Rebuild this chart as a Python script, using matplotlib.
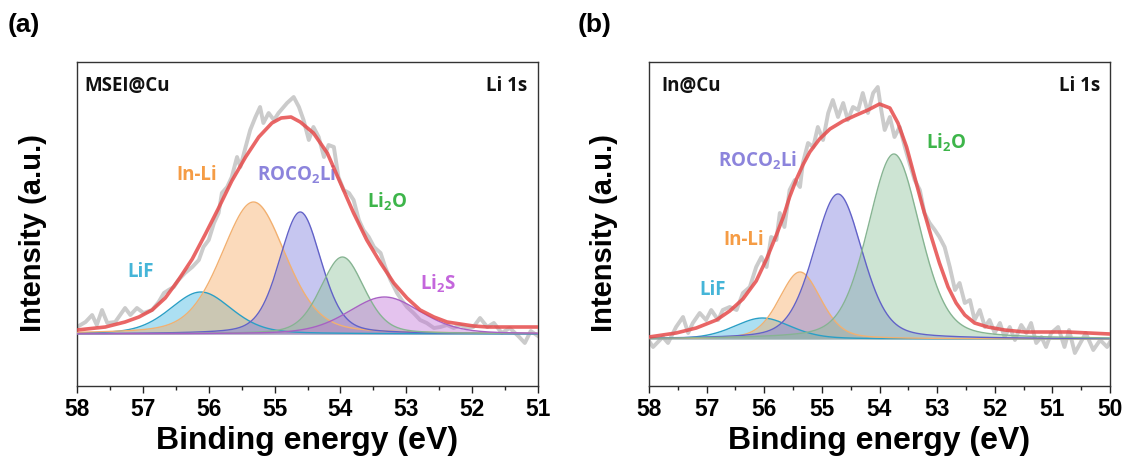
import numpy as np
import matplotlib
matplotlib.use("Agg")
import matplotlib.pyplot as plt
from matplotlib.ticker import MultipleLocator

plt.rcParams["mathtext.default"] = "regular"

# ---------------- data: panel (a) MSEI@Cu ----------------
a_raw_E = [58.00, 57.87, 57.77, 57.70, 57.62, 57.54, 57.42, 57.27, 57.19, 57.09, 56.99, 56.86,
           56.76, 56.68, 56.61, 56.53, 56.46, 56.36, 56.25, 56.15, 56.08, 56.00, 55.92, 55.85,
           55.80, 55.72, 55.65, 55.57, 55.52, 55.44, 55.37, 55.29, 55.22, 55.17, 55.09, 55.01,
           54.94, 54.81, 54.71, 54.63, 54.56, 54.48, 54.41, 54.33, 54.25, 54.18, 54.10, 54.03,
           53.95, 53.87, 53.80, 53.72, 53.65, 53.57, 53.49, 53.39, 53.32, 53.24, 53.14, 53.07,
           52.99, 52.89, 52.79, 52.69, 52.58, 52.48, 52.38, 52.28, 52.18, 52.08, 51.98, 51.88,
           51.77, 51.67, 51.55, 51.43, 51.30, 51.20, 51.11, 51.00]
a_raw_I = [7, 12, 19, 9, 24, 11, 12, 26, 19, 26, 21, 24,
           32, 41, 44, 47, 54, 61, 67, 74, 87, 94, 111, 121,
           141, 147, 157, 177, 167, 187, 204, 217, 227, 211, 221, 214,
           221, 231, 237, 227, 214, 194, 207, 197, 177, 189, 187, 157,
           144, 141, 134, 114, 104, 97, 87, 81, 67, 54, 41, 34,
           27, 21, 14, 11, 6, 7, 9, 6, 9, 6, 7, 16,
           7, 11, 1, 6, -2, -9, 3, -2]
a_fit_E = [58.00, 57.57, 57.27, 57.06, 56.86, 56.66, 56.46, 56.25, 56.05, 55.85, 55.65, 55.44,
           55.24, 55.04, 54.90, 54.75, 54.61, 54.41, 54.20, 54.00, 53.80, 53.60, 53.39, 53.19,
           52.99, 52.79, 52.58, 52.38, 52.18, 51.98, 51.77, 51.55, 51.00]
a_fit_I = [4, 7, 12, 17, 24, 36, 54, 75, 100, 126, 153, 177,
           197, 211, 216, 217, 212, 201, 181, 151, 121, 94, 71, 51,
           36, 24, 17, 12, 10, 8, 7, 7, 7]
a_names = ["LiF", "In-Li", "ROCO$_2$Li", "Li$_2$O", "Li$_2$S"]
a_center = [56.12, 55.32, 54.61, 53.97, 53.33]
a_height = [42, 132, 122, 77, 37]
a_fwhm = [1.10, 1.15, 0.75, 0.78, 1.30]
a_label_E = [57.04, 56.18, 54.67, 53.29, 52.52]
a_label_I = [62, 159, 159, 132, 50]

# ---------------- data: panel (b) In@Cu ----------------
b_raw_E = [58.00, 57.93, 57.76, 57.67, 57.53, 57.41, 57.32, 57.24, 57.12, 57.01, 56.92, 56.80,
           56.72, 56.60, 56.48, 56.37, 56.25, 56.14, 56.05, 55.96, 55.88, 55.79, 55.73, 55.65,
           55.56, 55.47, 55.38, 55.33, 55.24, 55.15, 55.07, 54.98, 54.89, 54.81, 54.72, 54.63,
           54.55, 54.46, 54.37, 54.29, 54.20, 54.11, 54.03, 53.97, 53.91, 53.82, 53.74, 53.65,
           53.56, 53.48, 53.39, 53.30, 53.22, 53.13, 53.04, 52.96, 52.87, 52.78, 52.69, 52.61,
           52.52, 52.43, 52.35, 52.26, 52.17, 52.09, 52.00, 51.91, 51.83, 51.74, 51.65, 51.54,
           51.45, 51.37, 51.28, 51.19, 51.11, 51.02, 50.90, 50.79, 50.71, 50.61, 50.42, 50.29,
           50.17, 50.05, 50.00]
b_raw_I = [-2, -8, 2, -4, 12, 22, 6, 16, 26, 19, 29, 19,
           29, 32, 29, 46, 52, 72, 82, 72, 102, 99, 126, 112,
           149, 159, 152, 176, 196, 192, 212, 199, 226, 239, 222, 236,
           219, 232, 229, 246, 226, 246, 252, 229, 209, 222, 202, 212,
           192, 176, 159, 149, 126, 116, 109, 102, 92, 72, 49, 56,
           36, 39, 19, 29, 12, 19, 6, 16, 2, 12, -1, 14,
           6, 16, -4, 2, -8, 6, 12, -8, 9, -14, 6, -11,
           -1, -8, -3]
b_fit_E = [58.00, 57.53, 57.18, 56.83, 56.60, 56.37, 56.14, 55.96, 55.79, 55.67, 55.56, 55.44,
           55.33, 55.21, 55.04, 54.86, 54.63, 54.40, 54.20, 54.00, 53.82, 53.68, 53.53, 53.39,
           53.25, 53.10, 52.96, 52.81, 52.67, 52.52, 52.35, 52.12, 51.83, 51.48, 51.13, 50.73,
           50.00]
b_fit_I = [2, 6, 11, 19, 28, 40, 58, 80, 104, 122, 142, 160,
           174, 187, 200, 210, 218, 224, 229, 235, 231, 216, 192, 162,
           132, 102, 76, 52, 36, 24, 16, 12, 9, 7, 7, 7,
           5]
b_names = ["LiF", "In-Li", "ROCO$_2$Li", "Li$_2$O"]
b_center = [56.03, 55.38, 54.72, 53.75]
b_height = [21, 67, 145, 185]
b_fwhm = [1.16, 0.85, 1.00, 1.07]
b_label_E = [56.90, 56.35, 56.12, 52.85]
b_label_I = [49, 99, 178, 196]

# ---------------- styles ----------------
comp_style = {
    "LiF": dict(fill="#3ab4e0", edge="#2a9fc6", text="#45b5d8"),
    "In-Li": dict(fill="#f6a75e", edge="#f2b070", text="#f59c45"),
    "ROCO$_2$Li": dict(fill="#7878dc", edge="#6262c8", text="#8c84dc"),
    "Li$_2$O": dict(fill="#88c096", edge="#86b492", text="#3db54a"),
    "Li$_2$S": dict(fill="#c070d8", edge="#a860c4", text="#c466dc"),
}
LABEL_FONT = ["Open Sans", "Lato", "DejaVu Sans"]


def gl_peak(x, c, h, w, m=0.3):
    d = (x - c) / w
    return h * ((1 - m) * np.exp(-4 * np.log(2) * d ** 2) + m / (1 + 4 * d ** 2))


fig = plt.figure(figsize=(11.25, 4.62), dpi=100)

panels = [
    dict(rect=[77 / 1125, 1 - 386 / 462, 461 / 1125, 324 / 462], xlim=(58, 51), ylim=(-52, 272),
         raw=(a_raw_E, a_raw_I), fit=(a_fit_E, a_fit_I), names=a_names, c=a_center,
         h=a_height, w=a_fwhm, lE=a_label_E, lI=a_label_I, sample="MSEI@Cu", tag="(a)",
         tagx=8 / 1125, ylx=33 / 1125, sx=0.017, rx=0.976),
    dict(rect=[649 / 1125, 1 - 386 / 462, 461 / 1125, 324 / 462], xlim=(58, 50), ylim=(-47, 277),
         raw=(b_raw_E, b_raw_I), fit=(b_fit_E, b_fit_I), names=b_names, c=b_center,
         h=b_height, w=b_fwhm, lE=b_label_E, lI=b_label_I, sample="In@Cu", tag="(b)",
         tagx=578 / 1125, ylx=604 / 1125, sx=0.026, rx=0.978),
]

for p in panels:
    ax = fig.add_axes(p["rect"])
    x0, x1 = p["xlim"]
    xs = np.linspace(x1, x0, 600)
    ax.plot(p["raw"][0], p["raw"][1], color="#cbcbcb", lw=2.8, zorder=1, solid_joinstyle="round")
    for name, c, h, w in zip(p["names"], p["c"], p["h"], p["w"]):
        st = comp_style[name]
        ys = gl_peak(xs, c, h, w)
        ax.fill_between(xs, 0, ys, color=st["fill"], alpha=0.42, lw=0, zorder=2)
        ax.plot(xs, ys, color=st["edge"], lw=1.0, zorder=3)
    ax.plot(p["fit"][0], p["fit"][1], color="#e64b4b", lw=2.6, alpha=0.85, zorder=4,
            solid_joinstyle="round", solid_capstyle="round")
    for name, e, i in zip(p["names"], p["lE"], p["lI"]):
        ax.text(e, i, name, color=comp_style[name]["text"], fontsize=13.5, fontweight="bold",
                family=LABEL_FONT, ha="center", va="center")
    ax.text(p["sx"], 0.926, p["sample"], transform=ax.transAxes, fontsize=13.5,
            fontweight="bold", family=LABEL_FONT, ha="left", va="center", color="#111111")
    ax.text(p["rx"], 0.926, "Li 1s", transform=ax.transAxes, fontsize=13.5,
            fontweight="bold", family=LABEL_FONT, ha="right", va="center", color="#111111")
    ax.set_xlim(x0, x1)
    ax.set_ylim(*p["ylim"])
    ax.xaxis.set_major_locator(MultipleLocator(1))
    ax.xaxis.set_minor_locator(MultipleLocator(0.5))
    ax.set_yticks([])
    ax.tick_params(axis="x", which="major", direction="out", length=5, width=1.0,
                   labelsize=16.5, pad=4, colors="#222222")
    ax.tick_params(axis="x", which="minor", direction="out", length=3, width=1.0,
                   colors="#222222")
    for lab in ax.get_xticklabels():
        lab.set_fontfamily("Liberation Sans")
        lab.set_fontweight("bold")
        lab.set_color("black")
    for s in ax.spines.values():
        s.set_linewidth(1.0)
        s.set_color("#333333")
    ax.set_xlabel("Binding energy (eV)", fontsize=23, family="Liberation Sans",
                  fontweight="bold", labelpad=3)
    fig.text(p["ylx"], 1 - 233 / 462, "Intensity (a.u.)", rotation=90, fontsize=21,
             family="Liberation Sans", fontweight="bold", ha="center", va="center")
    fig.text(p["tagx"], 1 - 25 / 462, p["tag"], fontsize=19, family="Liberation Sans",
             fontweight="bold", ha="left", va="center")

fig.savefig("out.png", dpi=100)
